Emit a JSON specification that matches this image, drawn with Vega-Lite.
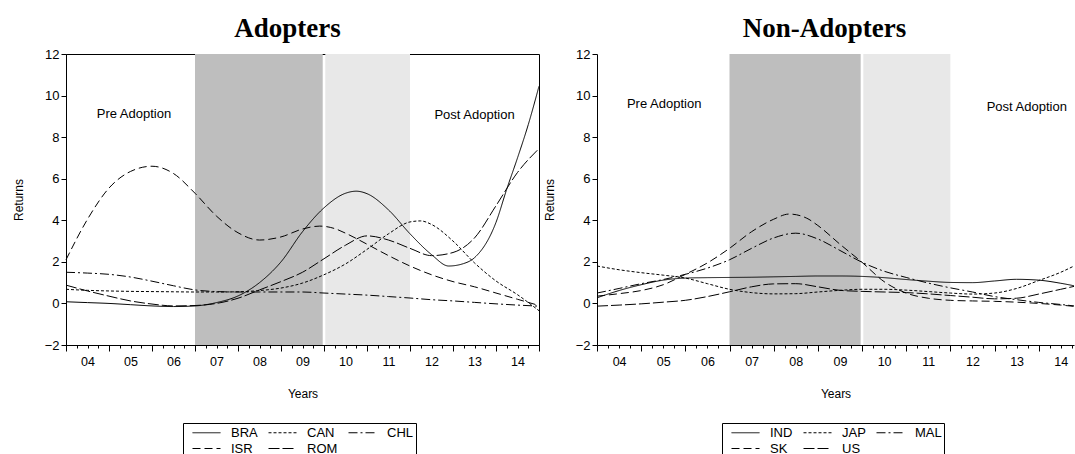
{
  "$schema": "https://vega.github.io/schema/vega-lite/v6.json",
  "padding": {"left": 11, "top": 14, "right": 0, "bottom": 0},
  "background": "white",
  "config": {
    "font": "Liberation Sans",
    "view": {"stroke": "black", "strokeWidth": 1},
    "title": {"font": "Liberation Serif", "fontSize": 27, "fontWeight": "bold", "color": "black", "offset": 5, "dx": -15},
    "axis": {"domainColor": "black", "tickColor": "black", "labelColor": "black", "titleColor": "black", "labelFontSize": 12.5, "titleFontSize": 12, "titleFontWeight": "normal", "grid": false, "labelFlush": false, "labelOverlap": false, "labelFont": "Liberation Sans", "titleFont": "Liberation Sans"},
    "axisY": {"labelFontSize": 13},
    "legend": {"symbolType": "M0,0H4", "symbolStrokeColor": "black", "symbolFillColor": "transparent", "symbolStrokeWidth": 1, "symbolSize": 196, "labelFontSize": 13, "labelColor": "black", "labelFont": "Liberation Sans", "strokeColor": "black", "padding": 2, "columns": 3, "columnPadding": 3, "rowPadding": 1, "labelOffset": 31, "orient": "none", "direction": "horizontal", "title": null}
  },
  "datasets": {
    "shades": [
      {"x0": 2007, "x1": 2009.97, "shade": "dark"},
      {"x0": 2010.03, "x1": 2012, "shade": "light"}
    ],
    "textsL": [
      {"t": "Pre Adoption", "x": 2005.58, "y": 9.1},
      {"t": "Post Adoption", "x": 2013.5, "y": 9.07}
    ],
    "textsR": [
      {"t": "Pre Adoption", "x": 2005.52, "y": 9.6},
      {"t": "Post Adoption", "x": 2013.73, "y": 9.45}
    ],
    "adopters": [
      {"c": "BRA", "x": 2004, "y": 0.08}, {"c": "BRA", "x": 2004.5, "y": 0.04}, {"c": "BRA", "x": 2005, "y": 0.0}, {"c": "BRA", "x": 2005.5, "y": -0.06}, {"c": "BRA", "x": 2006, "y": -0.12}, {"c": "BRA", "x": 2006.5, "y": -0.15}, {"c": "BRA", "x": 2007, "y": -0.12}, {"c": "BRA", "x": 2007.5, "y": 0.04}, {"c": "BRA", "x": 2008, "y": 0.36}, {"c": "BRA", "x": 2008.5, "y": 1.0}, {"c": "BRA", "x": 2009, "y": 2.0}, {"c": "BRA", "x": 2009.5, "y": 3.45}, {"c": "BRA", "x": 2010, "y": 4.6}, {"c": "BRA", "x": 2010.5, "y": 5.3}, {"c": "BRA", "x": 2010.75, "y": 5.4}, {"c": "BRA", "x": 2011, "y": 5.28}, {"c": "BRA", "x": 2011.5, "y": 4.5}, {"c": "BRA", "x": 2012, "y": 3.35}, {"c": "BRA", "x": 2012.5, "y": 2.35}, {"c": "BRA", "x": 2012.9, "y": 1.8}, {"c": "BRA", "x": 2013.25, "y": 1.92}, {"c": "BRA", "x": 2013.5, "y": 2.2}, {"c": "BRA", "x": 2014, "y": 3.9}, {"c": "BRA", "x": 2014.25, "y": 5.5}, {"c": "BRA", "x": 2014.5, "y": 7.0}, {"c": "BRA", "x": 2014.75, "y": 8.6}, {"c": "BRA", "x": 2015, "y": 10.45},
      {"c": "CAN", "x": 2004, "y": 0.68}, {"c": "CAN", "x": 2004.5, "y": 0.63}, {"c": "CAN", "x": 2005, "y": 0.6}, {"c": "CAN", "x": 2005.5, "y": 0.58}, {"c": "CAN", "x": 2006, "y": 0.57}, {"c": "CAN", "x": 2006.5, "y": 0.56}, {"c": "CAN", "x": 2007, "y": 0.55}, {"c": "CAN", "x": 2007.5, "y": 0.55}, {"c": "CAN", "x": 2008, "y": 0.56}, {"c": "CAN", "x": 2008.5, "y": 0.62}, {"c": "CAN", "x": 2009, "y": 0.74}, {"c": "CAN", "x": 2009.5, "y": 0.98}, {"c": "CAN", "x": 2010, "y": 1.38}, {"c": "CAN", "x": 2010.5, "y": 1.9}, {"c": "CAN", "x": 2011, "y": 2.6}, {"c": "CAN", "x": 2011.5, "y": 3.35}, {"c": "CAN", "x": 2012, "y": 3.92}, {"c": "CAN", "x": 2012.25, "y": 3.97}, {"c": "CAN", "x": 2012.5, "y": 3.8}, {"c": "CAN", "x": 2013, "y": 3.0}, {"c": "CAN", "x": 2013.5, "y": 1.95}, {"c": "CAN", "x": 2014, "y": 1.08}, {"c": "CAN", "x": 2014.5, "y": 0.42}, {"c": "CAN", "x": 2015, "y": -0.35},
      {"c": "CHL", "x": 2004, "y": 1.5}, {"c": "CHL", "x": 2004.5, "y": 1.46}, {"c": "CHL", "x": 2005, "y": 1.4}, {"c": "CHL", "x": 2005.5, "y": 1.27}, {"c": "CHL", "x": 2006, "y": 1.07}, {"c": "CHL", "x": 2006.5, "y": 0.85}, {"c": "CHL", "x": 2007, "y": 0.65}, {"c": "CHL", "x": 2007.5, "y": 0.57}, {"c": "CHL", "x": 2008, "y": 0.55}, {"c": "CHL", "x": 2008.5, "y": 0.55}, {"c": "CHL", "x": 2009, "y": 0.55}, {"c": "CHL", "x": 2009.5, "y": 0.55}, {"c": "CHL", "x": 2010, "y": 0.5}, {"c": "CHL", "x": 2010.5, "y": 0.45}, {"c": "CHL", "x": 2011, "y": 0.4}, {"c": "CHL", "x": 2011.5, "y": 0.33}, {"c": "CHL", "x": 2012, "y": 0.26}, {"c": "CHL", "x": 2012.5, "y": 0.18}, {"c": "CHL", "x": 2013, "y": 0.12}, {"c": "CHL", "x": 2013.5, "y": 0.05}, {"c": "CHL", "x": 2014, "y": -0.02}, {"c": "CHL", "x": 2014.5, "y": -0.08}, {"c": "CHL", "x": 2015, "y": -0.13},
      {"c": "ISR", "x": 2004, "y": 2.1}, {"c": "ISR", "x": 2004.5, "y": 4.05}, {"c": "ISR", "x": 2005, "y": 5.55}, {"c": "ISR", "x": 2005.5, "y": 6.35}, {"c": "ISR", "x": 2006, "y": 6.6}, {"c": "ISR", "x": 2006.5, "y": 6.25}, {"c": "ISR", "x": 2007, "y": 5.3}, {"c": "ISR", "x": 2007.5, "y": 4.2}, {"c": "ISR", "x": 2008, "y": 3.4}, {"c": "ISR", "x": 2008.5, "y": 3.05}, {"c": "ISR", "x": 2009, "y": 3.2}, {"c": "ISR", "x": 2009.5, "y": 3.58}, {"c": "ISR", "x": 2009.9, "y": 3.72}, {"c": "ISR", "x": 2010.25, "y": 3.6}, {"c": "ISR", "x": 2010.5, "y": 3.38}, {"c": "ISR", "x": 2011, "y": 2.85}, {"c": "ISR", "x": 2011.5, "y": 2.3}, {"c": "ISR", "x": 2012, "y": 1.8}, {"c": "ISR", "x": 2012.5, "y": 1.38}, {"c": "ISR", "x": 2013, "y": 1.05}, {"c": "ISR", "x": 2013.5, "y": 0.8}, {"c": "ISR", "x": 2014, "y": 0.5}, {"c": "ISR", "x": 2014.5, "y": 0.2}, {"c": "ISR", "x": 2015, "y": -0.1},
      {"c": "ROM", "x": 2004, "y": 0.88}, {"c": "ROM", "x": 2004.5, "y": 0.6}, {"c": "ROM", "x": 2005, "y": 0.35}, {"c": "ROM", "x": 2005.5, "y": 0.12}, {"c": "ROM", "x": 2006, "y": -0.03}, {"c": "ROM", "x": 2006.5, "y": -0.12}, {"c": "ROM", "x": 2007, "y": -0.1}, {"c": "ROM", "x": 2007.5, "y": 0.0}, {"c": "ROM", "x": 2008, "y": 0.25}, {"c": "ROM", "x": 2008.5, "y": 0.65}, {"c": "ROM", "x": 2009, "y": 1.05}, {"c": "ROM", "x": 2009.5, "y": 1.5}, {"c": "ROM", "x": 2010, "y": 2.15}, {"c": "ROM", "x": 2010.5, "y": 2.8}, {"c": "ROM", "x": 2011, "y": 3.25}, {"c": "ROM", "x": 2011.5, "y": 3.05}, {"c": "ROM", "x": 2012, "y": 2.65}, {"c": "ROM", "x": 2012.5, "y": 2.3}, {"c": "ROM", "x": 2013, "y": 2.45}, {"c": "ROM", "x": 2013.5, "y": 3.15}, {"c": "ROM", "x": 2014, "y": 4.7}, {"c": "ROM", "x": 2014.5, "y": 6.3}, {"c": "ROM", "x": 2015, "y": 7.45}
    ],
    "nonadopters": [
      {"c": "IND", "x": 2004, "y": 0.27}, {"c": "IND", "x": 2004.5, "y": 0.62}, {"c": "IND", "x": 2005, "y": 0.9}, {"c": "IND", "x": 2005.5, "y": 1.12}, {"c": "IND", "x": 2006, "y": 1.22}, {"c": "IND", "x": 2006.5, "y": 1.24}, {"c": "IND", "x": 2007, "y": 1.25}, {"c": "IND", "x": 2007.5, "y": 1.26}, {"c": "IND", "x": 2008, "y": 1.28}, {"c": "IND", "x": 2008.5, "y": 1.3}, {"c": "IND", "x": 2009, "y": 1.32}, {"c": "IND", "x": 2009.5, "y": 1.32}, {"c": "IND", "x": 2010, "y": 1.3}, {"c": "IND", "x": 2010.5, "y": 1.24}, {"c": "IND", "x": 2011, "y": 1.15}, {"c": "IND", "x": 2011.5, "y": 1.07}, {"c": "IND", "x": 2012, "y": 1.01}, {"c": "IND", "x": 2012.5, "y": 1.0}, {"c": "IND", "x": 2013, "y": 1.08}, {"c": "IND", "x": 2013.5, "y": 1.16}, {"c": "IND", "x": 2014, "y": 1.12}, {"c": "IND", "x": 2014.5, "y": 0.97}, {"c": "IND", "x": 2014.8, "y": 0.85},
      {"c": "JAP", "x": 2004, "y": 1.8}, {"c": "JAP", "x": 2004.5, "y": 1.62}, {"c": "JAP", "x": 2005, "y": 1.48}, {"c": "JAP", "x": 2005.5, "y": 1.36}, {"c": "JAP", "x": 2006, "y": 1.22}, {"c": "JAP", "x": 2006.5, "y": 0.95}, {"c": "JAP", "x": 2007, "y": 0.68}, {"c": "JAP", "x": 2007.5, "y": 0.52}, {"c": "JAP", "x": 2008, "y": 0.46}, {"c": "JAP", "x": 2008.5, "y": 0.47}, {"c": "JAP", "x": 2009, "y": 0.55}, {"c": "JAP", "x": 2009.5, "y": 0.63}, {"c": "JAP", "x": 2010, "y": 0.68}, {"c": "JAP", "x": 2010.5, "y": 0.68}, {"c": "JAP", "x": 2011, "y": 0.64}, {"c": "JAP", "x": 2011.5, "y": 0.57}, {"c": "JAP", "x": 2012, "y": 0.5}, {"c": "JAP", "x": 2012.5, "y": 0.45}, {"c": "JAP", "x": 2013, "y": 0.5}, {"c": "JAP", "x": 2013.5, "y": 0.72}, {"c": "JAP", "x": 2014, "y": 1.1}, {"c": "JAP", "x": 2014.5, "y": 1.5}, {"c": "JAP", "x": 2014.8, "y": 1.8},
      {"c": "MAL", "x": 2004, "y": 0.5}, {"c": "MAL", "x": 2004.5, "y": 0.72}, {"c": "MAL", "x": 2005, "y": 0.95}, {"c": "MAL", "x": 2005.5, "y": 1.15}, {"c": "MAL", "x": 2006, "y": 1.4}, {"c": "MAL", "x": 2006.5, "y": 1.7}, {"c": "MAL", "x": 2007, "y": 2.1}, {"c": "MAL", "x": 2007.5, "y": 2.65}, {"c": "MAL", "x": 2008, "y": 3.15}, {"c": "MAL", "x": 2008.5, "y": 3.38}, {"c": "MAL", "x": 2009, "y": 3.1}, {"c": "MAL", "x": 2009.5, "y": 2.55}, {"c": "MAL", "x": 2010, "y": 1.98}, {"c": "MAL", "x": 2010.5, "y": 1.55}, {"c": "MAL", "x": 2011, "y": 1.25}, {"c": "MAL", "x": 2011.5, "y": 0.98}, {"c": "MAL", "x": 2012, "y": 0.75}, {"c": "MAL", "x": 2012.5, "y": 0.55}, {"c": "MAL", "x": 2013, "y": 0.33}, {"c": "MAL", "x": 2013.5, "y": 0.18}, {"c": "MAL", "x": 2014, "y": 0.05}, {"c": "MAL", "x": 2014.5, "y": -0.05}, {"c": "MAL", "x": 2014.8, "y": -0.12},
      {"c": "SK", "x": 2004, "y": 0.35}, {"c": "SK", "x": 2004.5, "y": 0.47}, {"c": "SK", "x": 2005, "y": 0.62}, {"c": "SK", "x": 2005.5, "y": 0.9}, {"c": "SK", "x": 2006, "y": 1.4}, {"c": "SK", "x": 2006.5, "y": 1.95}, {"c": "SK", "x": 2007, "y": 2.65}, {"c": "SK", "x": 2007.5, "y": 3.45}, {"c": "SK", "x": 2008, "y": 4.05}, {"c": "SK", "x": 2008.35, "y": 4.3}, {"c": "SK", "x": 2008.75, "y": 4.1}, {"c": "SK", "x": 2009, "y": 3.75}, {"c": "SK", "x": 2009.5, "y": 2.85}, {"c": "SK", "x": 2010, "y": 1.98}, {"c": "SK", "x": 2010.5, "y": 1.05}, {"c": "SK", "x": 2011, "y": 0.5}, {"c": "SK", "x": 2011.5, "y": 0.25}, {"c": "SK", "x": 2012, "y": 0.15}, {"c": "SK", "x": 2012.5, "y": 0.12}, {"c": "SK", "x": 2013, "y": 0.1}, {"c": "SK", "x": 2013.5, "y": 0.06}, {"c": "SK", "x": 2014, "y": 0.0}, {"c": "SK", "x": 2014.5, "y": -0.08}, {"c": "SK", "x": 2014.8, "y": -0.14},
      {"c": "US", "x": 2004, "y": -0.13}, {"c": "US", "x": 2004.5, "y": -0.08}, {"c": "US", "x": 2005, "y": -0.02}, {"c": "US", "x": 2005.5, "y": 0.06}, {"c": "US", "x": 2006, "y": 0.15}, {"c": "US", "x": 2006.5, "y": 0.33}, {"c": "US", "x": 2007, "y": 0.56}, {"c": "US", "x": 2007.5, "y": 0.8}, {"c": "US", "x": 2008, "y": 0.94}, {"c": "US", "x": 2008.5, "y": 0.95}, {"c": "US", "x": 2009, "y": 0.8}, {"c": "US", "x": 2009.5, "y": 0.63}, {"c": "US", "x": 2010, "y": 0.58}, {"c": "US", "x": 2010.5, "y": 0.55}, {"c": "US", "x": 2011, "y": 0.52}, {"c": "US", "x": 2011.5, "y": 0.46}, {"c": "US", "x": 2012, "y": 0.38}, {"c": "US", "x": 2012.5, "y": 0.3}, {"c": "US", "x": 2013, "y": 0.22}, {"c": "US", "x": 2013.5, "y": 0.25}, {"c": "US", "x": 2014, "y": 0.45}, {"c": "US", "x": 2014.5, "y": 0.68}, {"c": "US", "x": 2014.8, "y": 0.82}
    ]
  },
  "spacing": 1,
  "resolve": {"scale": {"x": "independent", "y": "independent", "strokeDash": "independent", "color": "independent"}, "legend": {"strokeDash": "independent"}},
  "hconcat": [
    {
      "title": {"text": "Adopters"},
      "width": 473,
      "height": 291,
      "layer": [
        {
          "data": {"name": "shades"},
          "mark": {"type": "rect"},
          "encoding": {
            "x": {"field": "x0", "type": "quantitative", "title": "Years", "scale": {"domain": [2004, 2015], "nice": false, "zero": false},
              "axis": {"values": [2004, 2004.25, 2004.5, 2004.75, 2005, 2005.25, 2005.5, 2005.75, 2006, 2006.25, 2006.5, 2006.75, 2007, 2007.25, 2007.5, 2007.75, 2008, 2008.25, 2008.5, 2008.75, 2009, 2009.25, 2009.5, 2009.75, 2010, 2010.25, 2010.5, 2010.75, 2011, 2011.25, 2011.5, 2011.75, 2012, 2012.25, 2012.5, 2012.75, 2013, 2013.25, 2013.5, 2013.75, 2014, 2014.25, 2014.5, 2014.75, 2015],
                "labelExpr": "datum.value % 1 === 0.5 ? ((floor(datum.value) % 100 < 10 ? '0' : '') + (floor(datum.value) % 100)) : ''",
                "tickSize": {"condition": {"test": "datum.value % 1 === 0", "value": 6}, "value": 3},
                "labelPadding": 7, "titlePadding": 18}},
            "x2": {"field": "x1"},
            "color": {"field": "shade", "type": "nominal", "scale": {"domain": ["dark", "light"], "range": ["#bebebe", "#e8e8e8"]}, "legend": null}
          }
        },
        {
          "data": {"name": "adopters"},
          "mark": {"type": "line", "color": "black", "strokeWidth": 1, "interpolate": "monotone"},
          "encoding": {
            "x": {"field": "x", "type": "quantitative", "title": "Years", "scale": {"domain": [2004, 2015], "nice": false, "zero": false},
              "axis": {"values": [2004, 2004.25, 2004.5, 2004.75, 2005, 2005.25, 2005.5, 2005.75, 2006, 2006.25, 2006.5, 2006.75, 2007, 2007.25, 2007.5, 2007.75, 2008, 2008.25, 2008.5, 2008.75, 2009, 2009.25, 2009.5, 2009.75, 2010, 2010.25, 2010.5, 2010.75, 2011, 2011.25, 2011.5, 2011.75, 2012, 2012.25, 2012.5, 2012.75, 2013, 2013.25, 2013.5, 2013.75, 2014, 2014.25, 2014.5, 2014.75, 2015],
                "labelExpr": "datum.value % 1 === 0.5 ? ((floor(datum.value) % 100 < 10 ? '0' : '') + (floor(datum.value) % 100)) : ''",
                "tickSize": {"condition": {"test": "datum.value % 1 === 0", "value": 6}, "value": 3},
                "labelPadding": 7, "titlePadding": 18}},
            "y": {"field": "y", "type": "quantitative", "title": "Returns", "scale": {"domain": [-2, 12], "nice": false, "zero": false},
              "axis": {"values": [-2, 0, 2, 4, 6, 8, 10, 12], "tickSize": 5, "labelPadding": 2, "titlePadding": 19}},
            "strokeDash": {"field": "c", "type": "nominal", "scale": {"domain": ["BRA", "CAN", "CHL", "ISR", "ROM"], "range": [[1, 0], [3, 2], [9, 3, 2, 3], [8, 4], [11, 3]]},
              "legend": {"legendX": 117, "legendY": 369}},
            "order": {"field": "x", "type": "quantitative"}
          }
        },
        {
          "data": {"name": "textsL"},
          "mark": {"type": "text", "fontSize": 13, "font": "Liberation Sans", "color": "black", "align": "center", "baseline": "middle"},
          "encoding": {
            "x": {"field": "x", "type": "quantitative", "title": "Years", "scale": {"domain": [2004, 2015], "nice": false, "zero": false},
              "axis": {"values": [2004, 2004.25, 2004.5, 2004.75, 2005, 2005.25, 2005.5, 2005.75, 2006, 2006.25, 2006.5, 2006.75, 2007, 2007.25, 2007.5, 2007.75, 2008, 2008.25, 2008.5, 2008.75, 2009, 2009.25, 2009.5, 2009.75, 2010, 2010.25, 2010.5, 2010.75, 2011, 2011.25, 2011.5, 2011.75, 2012, 2012.25, 2012.5, 2012.75, 2013, 2013.25, 2013.5, 2013.75, 2014, 2014.25, 2014.5, 2014.75, 2015],
                "labelExpr": "datum.value % 1 === 0.5 ? ((floor(datum.value) % 100 < 10 ? '0' : '') + (floor(datum.value) % 100)) : ''",
                "tickSize": {"condition": {"test": "datum.value % 1 === 0", "value": 6}, "value": 3},
                "labelPadding": 7, "titlePadding": 18}},
            "y": {"field": "y", "type": "quantitative", "title": "Returns", "scale": {"domain": [-2, 12], "nice": false, "zero": false},
              "axis": {"values": [-2, 0, 2, 4, 6, 8, 10, 12], "tickSize": 5, "labelPadding": 2, "titlePadding": 19}},
            "text": {"field": "t"}
          }
        }
      ]
    },
    {
      "title": {"text": "Non-Adopters", "dx": -11},
      "width": 477,
      "height": 291,
      "view": {"stroke": null},
      "layer": [
        {
          "data": {"name": "shades"},
          "mark": {"type": "rect"},
          "encoding": {
            "x": {"field": "x0", "type": "quantitative", "title": "Years", "scale": {"domain": [2004, 2014.8], "nice": false, "zero": false},
              "axis": {"values": [2004, 2004.25, 2004.5, 2004.75, 2005, 2005.25, 2005.5, 2005.75, 2006, 2006.25, 2006.5, 2006.75, 2007, 2007.25, 2007.5, 2007.75, 2008, 2008.25, 2008.5, 2008.75, 2009, 2009.25, 2009.5, 2009.75, 2010, 2010.25, 2010.5, 2010.75, 2011, 2011.25, 2011.5, 2011.75, 2012, 2012.25, 2012.5, 2012.75, 2013, 2013.25, 2013.5, 2013.75, 2014, 2014.25, 2014.5, 2014.75],
                "labelExpr": "datum.value % 1 === 0.5 ? ((floor(datum.value) % 100 < 10 ? '0' : '') + (floor(datum.value) % 100)) : ''",
                "tickSize": {"condition": {"test": "datum.value % 1 === 0", "value": 6}, "value": 3},
                "labelPadding": 7, "titlePadding": 18}},
            "x2": {"field": "x1"},
            "color": {"field": "shade", "type": "nominal", "scale": {"domain": ["dark", "light"], "range": ["#bebebe", "#e8e8e8"]}, "legend": null}
          }
        },
        {
          "mark": {"type": "rule", "color": "black", "strokeWidth": 1},
          "encoding": {"y": {"datum": 12, "type": "quantitative", "title": "Returns", "scale": {"domain": [-2, 12], "nice": false, "zero": false},
              "axis": {"values": [-2, 0, 2, 4, 6, 8, 10, 12], "tickSize": 5, "labelPadding": 2, "titlePadding": 19}}}
        },
        {
          "data": {"name": "nonadopters"},
          "mark": {"type": "line", "color": "black", "strokeWidth": 1, "interpolate": "monotone"},
          "encoding": {
            "x": {"field": "x", "type": "quantitative", "title": "Years", "scale": {"domain": [2004, 2014.8], "nice": false, "zero": false},
              "axis": {"values": [2004, 2004.25, 2004.5, 2004.75, 2005, 2005.25, 2005.5, 2005.75, 2006, 2006.25, 2006.5, 2006.75, 2007, 2007.25, 2007.5, 2007.75, 2008, 2008.25, 2008.5, 2008.75, 2009, 2009.25, 2009.5, 2009.75, 2010, 2010.25, 2010.5, 2010.75, 2011, 2011.25, 2011.5, 2011.75, 2012, 2012.25, 2012.5, 2012.75, 2013, 2013.25, 2013.5, 2013.75, 2014, 2014.25, 2014.5, 2014.75],
                "labelExpr": "datum.value % 1 === 0.5 ? ((floor(datum.value) % 100 < 10 ? '0' : '') + (floor(datum.value) % 100)) : ''",
                "tickSize": {"condition": {"test": "datum.value % 1 === 0", "value": 6}, "value": 3},
                "labelPadding": 7, "titlePadding": 18}},
            "y": {"field": "y", "type": "quantitative", "title": "Returns", "scale": {"domain": [-2, 12], "nice": false, "zero": false},
              "axis": {"values": [-2, 0, 2, 4, 6, 8, 10, 12], "tickSize": 5, "labelPadding": 2, "titlePadding": 19}},
            "strokeDash": {"field": "c", "type": "nominal", "scale": {"domain": ["IND", "JAP", "MAL", "SK", "US"], "range": [[1, 0], [3, 2], [9, 3, 2, 3], [8, 4], [11, 3]]},
              "legend": {"legendX": 125, "legendY": 369}},
            "order": {"field": "x", "type": "quantitative"}
          }
        },
        {
          "data": {"name": "textsR"},
          "mark": {"type": "text", "fontSize": 13, "font": "Liberation Sans", "color": "black", "align": "center", "baseline": "middle"},
          "encoding": {
            "x": {"field": "x", "type": "quantitative", "title": "Years", "scale": {"domain": [2004, 2014.8], "nice": false, "zero": false},
              "axis": {"values": [2004, 2004.25, 2004.5, 2004.75, 2005, 2005.25, 2005.5, 2005.75, 2006, 2006.25, 2006.5, 2006.75, 2007, 2007.25, 2007.5, 2007.75, 2008, 2008.25, 2008.5, 2008.75, 2009, 2009.25, 2009.5, 2009.75, 2010, 2010.25, 2010.5, 2010.75, 2011, 2011.25, 2011.5, 2011.75, 2012, 2012.25, 2012.5, 2012.75, 2013, 2013.25, 2013.5, 2013.75, 2014, 2014.25, 2014.5, 2014.75],
                "labelExpr": "datum.value % 1 === 0.5 ? ((floor(datum.value) % 100 < 10 ? '0' : '') + (floor(datum.value) % 100)) : ''",
                "tickSize": {"condition": {"test": "datum.value % 1 === 0", "value": 6}, "value": 3},
                "labelPadding": 7, "titlePadding": 18}},
            "y": {"field": "y", "type": "quantitative", "title": "Returns", "scale": {"domain": [-2, 12], "nice": false, "zero": false},
              "axis": {"values": [-2, 0, 2, 4, 6, 8, 10, 12], "tickSize": 5, "labelPadding": 2, "titlePadding": 19}},
            "text": {"field": "t"}
          }
        }
      ]
    }
  ]
}
